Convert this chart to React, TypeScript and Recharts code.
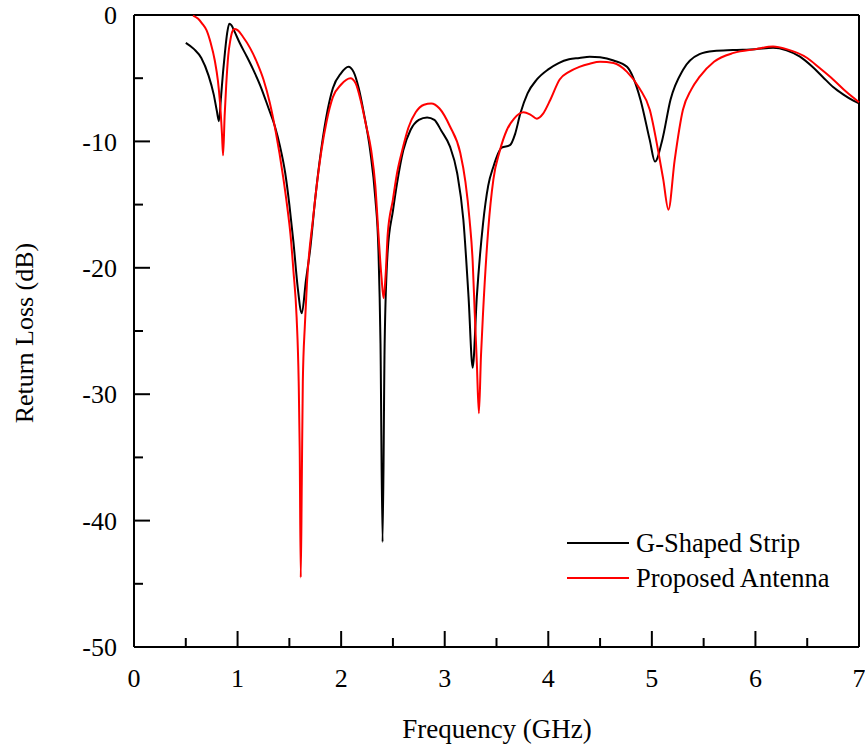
import React from "react";
import { LineChart, Line, XAxis, YAxis, ReferenceLine } from "recharts";

// G-Shaped Strip
const gFreq = [0.5, 0.58, 0.65, 0.72, 0.77, 0.8, 0.82, 0.84, 0.86, 0.88, 0.9, 0.92, 0.94, 0.97, 1.02, 1.09, 1.15, 1.22, 1.3, 1.36, 1.41, 1.46, 1.5, 1.54, 1.58, 1.62, 1.66, 1.7, 1.75, 1.81, 1.87, 1.92, 2.0, 2.07, 2.12, 2.17, 2.22, 2.28, 2.33, 2.36, 2.38, 2.4, 2.42, 2.45, 2.5, 2.54, 2.6, 2.67, 2.75, 2.83, 2.9, 2.97, 3.05, 3.12, 3.18, 3.23, 3.27, 3.31, 3.37, 3.42, 3.47, 3.55, 3.63, 3.68, 3.73, 3.8, 3.89, 4.0, 4.1, 4.2, 4.3, 4.4, 4.5, 4.63, 4.76, 4.89, 4.98, 5.03, 5.1, 5.18, 5.3, 5.46, 5.6, 5.78, 6.0, 6.17, 6.3, 6.43, 6.55, 6.65, 6.75, 6.85, 6.95, 7.0];
const gLoss = [-2.2, -2.7, -3.4, -4.8, -6.3, -7.6, -8.4, -6.5, -4.5, -2.8, -1.4, -0.7, -0.8, -1.3, -2.2, -3.3, -4.3, -5.6, -7.4, -8.8, -10.4, -12.5, -15.0, -18.0, -21.5, -23.6, -21.0, -18.6, -14.5, -10.5, -7.5, -5.8, -4.6, -4.1, -4.5, -5.8, -7.8, -10.7, -14.5, -18.6, -26.0, -41.7, -26.0, -18.6, -15.5, -13.3, -10.7, -9.1, -8.3, -8.1, -8.3, -9.2, -10.4, -12.5, -16.2, -22.3, -27.9, -22.3, -16.5, -13.5, -12.0, -10.5, -10.3, -9.4, -7.8, -6.2, -5.1, -4.3, -3.8, -3.5, -3.4, -3.3, -3.35, -3.6, -4.1, -6.7, -9.9, -11.6, -9.9, -6.7, -4.35, -3.1, -2.85, -2.77, -2.7, -2.6, -2.8, -3.3, -4.1, -4.9, -5.7, -6.3, -6.8, -7.0];

// Proposed Antenna
const pFreq = [0.57, 0.62, 0.66, 0.7, 0.74, 0.78, 0.81, 0.83, 0.85, 0.86, 0.875, 0.89, 0.91, 0.93, 0.95, 0.97, 1.0, 1.05, 1.12, 1.19, 1.25, 1.31, 1.37, 1.44, 1.48, 1.51, 1.54, 1.57, 1.59, 1.6, 1.61, 1.62, 1.63, 1.65, 1.67, 1.73, 1.81, 1.86, 1.92, 2.0, 2.09, 2.14, 2.19, 2.24, 2.29, 2.33, 2.36, 2.39, 2.41, 2.43, 2.45, 2.5, 2.54, 2.59, 2.65, 2.72, 2.8, 2.87, 2.95, 3.05, 3.15, 3.2, 3.24, 3.27, 3.29, 3.31, 3.33, 3.35, 3.37, 3.42, 3.47, 3.53, 3.6, 3.67, 3.76, 3.83, 3.89, 3.95, 4.02, 4.11, 4.2, 4.3, 4.4, 4.5, 4.63, 4.76, 4.88, 4.98, 5.06, 5.11, 5.16, 5.22, 5.3, 5.38, 5.46, 5.6, 5.79, 6.0, 6.17, 6.3, 6.5, 6.62, 6.75, 6.88, 7.0];
const pLoss = [-0.05, -0.3, -0.7, -1.2, -2.2, -3.6, -5.2, -6.9, -9.5, -11.1, -8.0, -5.6, -3.2, -2.0, -1.3, -1.1, -1.2, -1.7, -2.6, -3.8, -5.1, -6.9, -9.3, -12.8, -15.2, -17.3, -20.3, -23.9, -29.0, -34.4, -44.5, -37.0, -29.0, -24.5, -21.2, -16.0, -10.7, -8.4, -6.5, -5.5, -5.0, -5.4, -6.8, -8.7, -10.7, -13.5, -17.3, -20.8, -22.4, -20.5, -17.3, -14.6, -12.5, -10.7, -8.9, -7.7, -7.1, -7.0, -7.4, -8.8, -10.9, -13.2, -16.2, -19.5, -23.6, -27.5, -31.5, -27.0, -23.6, -17.0, -13.0, -10.8, -9.1, -8.2, -7.7, -7.9, -8.2, -7.8, -6.7, -5.1, -4.5, -4.1, -3.85, -3.7, -3.8, -4.5, -5.8, -7.5, -10.7, -13.0, -15.4, -11.5, -7.5, -5.9, -4.9, -3.7, -3.0, -2.7, -2.5, -2.7, -3.4, -4.2, -5.1, -6.1, -6.9];

const xTicks = [0, 0.5, 1, 1.5, 2, 2.5, 3, 3.5, 4, 4.5, 5, 5.5, 6, 6.5, 7];
const yTicks = [-50, -45, -40, -35, -30, -25, -20, -15, -10, -5, 0];

const gData = gFreq.map((f, i) => ({ f, v: gLoss[i] }));
const pData = pFreq.map((f, i) => ({ f, v: pLoss[i] }));

const FONT = "'Liberation Serif', 'Times New Roman', serif";

const XTick = (props: any) => {
  const { x, y, payload } = props;
  const v = payload.value as number;
  const major = Number.isInteger(v);
  return (
    <g>
      <line x1={x} x2={x} y1={y} y2={y - (major ? 16 : 9)} stroke="#000" strokeWidth={2} />
      {major && (
        <text x={x} y={y + 40} textAnchor="middle" fontFamily={FONT} fontSize={26} fill="#000">
          {String(v)}
        </text>
      )}
    </g>
  );
};

const YTick = (props: any) => {
  const { x, y, payload } = props;
  const v = payload.value as number;
  const major = v % 10 === 0;
  return (
    <g>
      <line x1={x} x2={x + (major ? 16 : 9)} y1={y} y2={y} stroke="#000" strokeWidth={2} />
      {major && (
        <text x={x - 17} y={y} dy="0.35em" textAnchor="end" fontFamily={FONT} fontSize={26} fill="#000">
          {String(v)}
        </text>
      )}
    </g>
  );
};

export default function App() {
  return (
    <div style={{ position: "absolute", left: 0, top: 0, width: 865, height: 749 }}>
      <LineChart width={865} height={749} margin={{ top: 15, right: 6, left: 0, bottom: 0 }}>
        <XAxis
          type="number"
          dataKey="f"
          domain={[0, 7]}
          ticks={xTicks}
          interval={0}
          tickSize={0}
          tickMargin={0}
          tickLine={false}
          tick={<XTick />}
          height={102}
          axisLine={{ stroke: "#000", strokeWidth: 2 }}
        />
        <YAxis
          type="number"
          domain={[-50, 0]}
          ticks={yTicks}
          interval={0}
          tickSize={0}
          tickMargin={0}
          tickLine={false}
          tick={<YTick />}
          width={134}
          axisLine={{ stroke: "#000", strokeWidth: 2 }}
        />
        <ReferenceLine y={0} stroke="#000" strokeWidth={2} />
        <ReferenceLine x={7} stroke="#000" strokeWidth={2} />
        <Line data={gData} dataKey="v" type="monotone" stroke="#000000" strokeWidth={2} dot={false} isAnimationActive={false} />
        <Line data={pData} dataKey="v" type="monotone" stroke="#ff0000" strokeWidth={2} dot={false} isAnimationActive={false} />
        <text x={497} y={738} textAnchor="middle" fontFamily={FONT} fontSize={27} fill="#000">
          Frequency (GHz)
        </text>
        <text x={33} y={333} transform="rotate(-90 33 333)" textAnchor="middle" fontFamily={FONT} fontSize={26} fill="#000">
          Return Loss (dB)
        </text>
        <line x1={567} x2={629} y1={543} y2={543} stroke="#000" strokeWidth={2} />
        <text x={636} y={552} fontFamily={FONT} fontSize={26.5} fill="#000">G-Shaped Strip</text>
        <line x1={567} x2={629} y1={578} y2={578} stroke="#ff0000" strokeWidth={2} />
        <text x={636} y={587} fontFamily={FONT} fontSize={26.5} fill="#000">Proposed Antenna</text>
      </LineChart>
    </div>
  );
}
